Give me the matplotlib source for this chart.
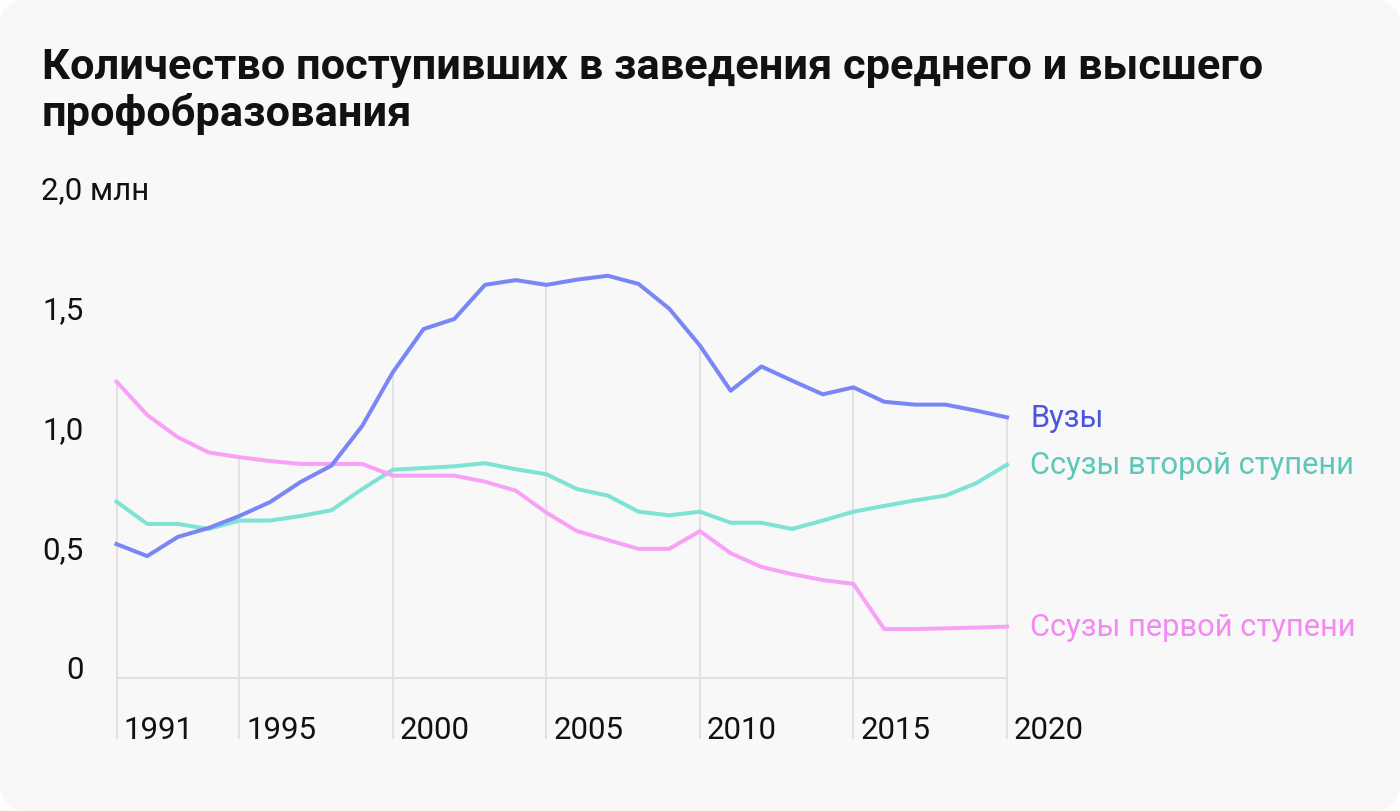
import matplotlib
matplotlib.use("Agg")
import matplotlib.pyplot as plt
from matplotlib.patches import FancyBboxPatch
from matplotlib import transforms
import numpy as np

plt.rcParams['font.family'] = ['Roboto', 'DejaVu Sans']

years = list(range(1991, 2021))
vuzy = [0.558, 0.508, 0.588, 0.625, 0.675, 0.733, 0.817, 0.885, 1.050, 1.274,
        1.454, 1.496, 1.638, 1.658, 1.638, 1.660, 1.676, 1.642, 1.539, 1.385,
        1.197, 1.298, 1.239, 1.182, 1.211, 1.151, 1.139, 1.139, 1.114, 1.086]
ssuz2 = [0.735, 0.642, 0.642, 0.621, 0.656, 0.656, 0.675, 0.699, 0.787, 0.868,
         0.875, 0.882, 0.895, 0.870, 0.849, 0.787, 0.760, 0.693, 0.678, 0.693,
         0.647, 0.647, 0.621, 0.656, 0.693, 0.717, 0.740, 0.760, 0.812, 0.889]
ssuz1 = [1.235, 1.096, 1.003, 0.940, 0.920, 0.904, 0.892, 0.892, 0.892, 0.843,
         0.843, 0.843, 0.818, 0.781, 0.689, 0.612, 0.575, 0.538, 0.538, 0.612,
         0.520, 0.463, 0.433, 0.408, 0.392, 0.204, 0.204, 0.207, 0.210, 0.214]

series_names = ["Вузы", "Ссузы второй ступени", "Ссузы первой ступени"]
grid_years = [1991, 1995, 2000, 2005, 2010, 2015, 2020]
y_ticks = [0, 0.5, 1.0, 1.5, 2.0]
y_labels = ["0", "0,5", "1,0", "1,5", "2,0 млн"]
title = "Количество поступивших в заведения среднего и высшего\nпрофобразования"

W, H = 1400, 812
fig = plt.figure(figsize=(W / 100, H / 100), dpi=100)
fig.patch.set_facecolor("white")
bg = FancyBboxPatch((0, 0), 1, 1, boxstyle="round,pad=0,rounding_size=0.02",
                    transform=fig.transFigure, facecolor="#f8f8f8", edgecolor="none",
                    mutation_aspect=W / H, zorder=-10)
fig.patches.append(bg)

x0, x1 = 116.5, 1007.0
y0, y1 = 679.0, 199.0
ax = fig.add_axes([x0 / W, (H - y0) / H, (x1 - x0) / W, (y0 - y1) / H])
ax.set_xlim(1991, 2020)
ax.set_ylim(0, 2.0)
ax.set_facecolor("none")
for s in ax.spines.values():
    s.set_visible(False)
ax.set_xticks([])
ax.set_yticks([])

grid_c = "#e2e2e2"
tick_fs = 22.5
ax.plot([1991, 2020], [0, 0], color=grid_c, lw=1.5, zorder=1, clip_on=False)
ybottom = -0.254
for yr in grid_years:
    i = years.index(yr)
    top = max(vuzy[i], ssuz2[i], ssuz1[i])
    ax.plot([yr, yr], [ybottom, top], color=grid_c, lw=1.5, zorder=1, clip_on=False,
            solid_capstyle="butt")
    tr = transforms.offset_copy(ax.transData, fig=fig, x=7, y=0, units="dots")
    ax.text(yr, -0.25, str(yr), transform=tr, ha="left", va="baseline",
            fontsize=tick_fs, color="#111111")

line_cols = {"v": "#7b86f6", "s2": "#7ee3d4", "s1": "#f8a2f7"}
lab_cols = {"v": "#4a55dd", "s2": "#5cc8b8", "s1": "#f389f2"}
lw = 2.9
ax.plot(years, ssuz2, color=line_cols["s2"], lw=lw, zorder=3, clip_on=False)
ax.plot(years, ssuz1, color=line_cols["s1"], lw=lw, zorder=4, clip_on=False)
ax.plot(years, vuzy, color=line_cols["v"], lw=lw, zorder=5, clip_on=False)

lab_tr = transforms.offset_copy(ax.transData, fig=fig, x=23, y=0, units="dots")
for vals, key, name in [(vuzy, "v", series_names[0]), (ssuz2, "s2", series_names[1]),
                        (ssuz1, "s1", series_names[2])]:
    ax.text(years[-1], vals[-1], name, transform=lab_tr, ha="left", va="center",
            fontsize=22.2, color=lab_cols[key])

ytr = transforms.blended_transform_factory(fig.transFigure, ax.transData)
for v, lab in zip(y_ticks, y_labels):
    if lab.endswith("млн"):
        ax.text(41 / W, v, lab, transform=ytr, ha="left", va="baseline",
                fontsize=tick_fs, color="#111111")
    else:
        ax.text(84 / W, v, lab, transform=ytr, ha="right", va="baseline",
                fontsize=tick_fs, color="#111111")

fig.text(42 / W, 1 - 126 / H, title, ha="left", va="baseline", fontsize=31.2,
         fontweight="bold", color="#111111", linespacing=1.15)

fig.savefig("out.png", dpi=100, facecolor=fig.get_facecolor())
